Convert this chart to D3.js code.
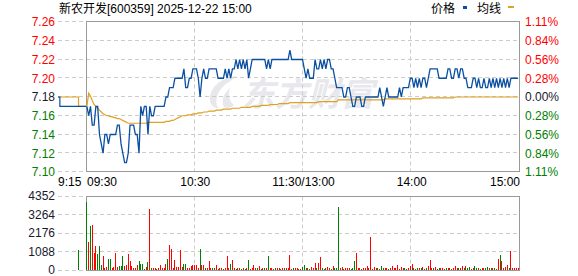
<!DOCTYPE html>
<html><head><meta charset="utf-8">
<script src="https://cdn.jsdelivr.net/npm/d3@7"></script>
<style>html,body{margin:0;padding:0;background:#fff;}svg{display:block;}</style>
</head><body>
<script>
// ---------------- data ----------------
const title = "新农开发[600359] 2025-12-22 15:00";
const legendNames = ["价格", "均线"];
const prevClose = 7.18;
const priceTicks = [7.26, 7.24, 7.22, 7.20, 7.18, 7.16, 7.14, 7.12, 7.10];
const pctTicks = ["1.11%", "0.84%", "0.56%", "0.28%", "0.00%", "0.28%", "0.56%", "0.84%", "1.11%"];
const volTicks = [4352, 3264, 2176, 1088, 0];
const timeLabels = ["9:15", "09:30", "10:30", "11:30/13:00", "14:00", "15:00"];
const timeMinutes = [null, 0, 60, 120, 180, 240];
const watermark = "东方财富";

// pre-market (minutes after 9:15)
const preMin = [0, 1, 11, 15];
const prePrice = [7.18, 7.17, 7.17, 7.17];
const preAvg = [7.18, 7.18, 7.17, 7.17];
const preVolMin = [11];
const preVol = [1150];
const preVolDir = ["G"];

// one value per minute, 09:30 .. 15:00 (241 points)
const price = [
7.17,7.16,7.17,7.15,7.15,7.17,7.17,7.14,7.13,7.12,
7.14,7.14,7.13,7.14,7.14,7.14,7.14,7.15,7.15,7.13,
7.12,7.11,7.11,7.12,7.15,7.15,7.15,7.14,7.14,7.12,
7.17,7.16,7.17,7.17,7.14,7.17,7.16,7.16,7.17,7.17,
7.17,7.17,7.17,7.17,7.18,7.18,7.19,7.19,7.19,7.20,
7.20,7.20,7.20,7.20,7.21,7.19,7.19,7.20,7.20,7.21,
7.21,7.21,7.20,7.18,7.20,7.21,7.20,7.20,7.21,7.21,
7.21,7.21,7.21,7.20,7.20,7.20,7.20,7.21,7.20,7.21,
7.20,7.21,7.21,7.22,7.21,7.22,7.21,7.22,7.21,7.22,
7.20,7.21,7.22,7.22,7.22,7.22,7.22,7.22,7.22,7.22,
7.21,7.22,7.21,7.22,7.22,7.22,7.22,7.22,7.22,7.22,
7.22,7.22,7.22,7.23,7.22,7.22,7.22,7.22,7.22,7.22,
7.22,7.21,7.20,7.21,7.20,7.20,7.20,7.22,7.21,7.21,
7.22,7.21,7.22,7.21,7.22,7.22,7.21,7.21,7.20,7.19,
7.19,7.19,7.19,7.18,7.18,7.19,7.19,7.18,7.17,7.17,
7.18,7.18,7.18,7.17,7.17,7.18,7.18,7.18,7.18,7.18,
7.18,7.18,7.18,7.19,7.18,7.17,7.18,7.19,7.18,7.18,
7.18,7.18,7.18,7.18,7.19,7.18,7.19,7.19,7.19,7.19,
7.20,7.20,7.19,7.20,7.19,7.20,7.19,7.20,7.20,7.19,
7.20,7.21,7.21,7.21,7.21,7.21,7.20,7.20,7.20,7.20,
7.20,7.21,7.21,7.20,7.20,7.21,7.21,7.20,7.21,7.21,
7.20,7.20,7.19,7.19,7.19,7.20,7.20,7.19,7.20,7.19,
7.19,7.20,7.19,7.19,7.20,7.19,7.20,7.19,7.20,7.19,
7.20,7.19,7.20,7.19,7.20,7.19,7.20,7.20,7.20,7.20,
7.20];

const avgPrice = [
7.170,7.184,7.181,7.176,7.172,7.170,7.168,7.166,7.164,7.162,
7.161,7.160,7.160,7.159,7.159,7.158,7.158,7.157,7.157,7.156,
7.155,7.154,7.153,7.152,7.152,7.152,7.152,7.152,7.152,7.152,
7.152,7.152,7.152,7.152,7.153,7.153,7.153,7.153,7.153,7.153,
7.153,7.153,7.153,7.153,7.154,7.154,7.154,7.155,7.155,7.156,
7.157,7.158,7.159,7.160,7.160,7.160,7.161,7.161,7.161,7.162,
7.162,7.162,7.163,7.163,7.163,7.164,7.164,7.164,7.165,7.165,
7.165,7.165,7.166,7.166,7.166,7.166,7.167,7.167,7.167,7.167,
7.167,7.168,7.168,7.168,7.168,7.168,7.169,7.169,7.169,7.169,
7.169,7.169,7.170,7.170,7.170,7.170,7.170,7.171,7.171,7.171,
7.171,7.171,7.172,7.172,7.172,7.172,7.172,7.173,7.173,7.173,
7.173,7.173,7.173,7.174,7.174,7.174,7.174,7.174,7.174,7.174,
7.174,7.174,7.174,7.174,7.174,7.174,7.174,7.174,7.174,7.175,
7.175,7.175,7.175,7.175,7.175,7.175,7.175,7.175,7.175,7.175,
7.177,7.177,7.177,7.177,7.177,7.177,7.177,7.177,7.177,7.177,
7.177,7.177,7.177,7.177,7.177,7.177,7.177,7.177,7.177,7.177,
7.177,7.177,7.177,7.177,7.177,7.177,7.178,7.178,7.178,7.178,
7.178,7.178,7.178,7.178,7.178,7.178,7.178,7.178,7.178,7.178,
7.178,7.178,7.178,7.178,7.178,7.178,7.178,7.179,7.179,7.179,
7.179,7.179,7.179,7.179,7.179,7.179,7.179,7.179,7.179,7.179,
7.179,7.179,7.179,7.179,7.179,7.180,7.180,7.180,7.180,7.180,
7.180,7.180,7.180,7.180,7.180,7.180,7.180,7.180,7.180,7.180,
7.180,7.180,7.180,7.180,7.180,7.180,7.180,7.180,7.180,7.180,
7.180,7.180,7.180,7.180,7.180,7.180,7.180,7.180,7.180,7.180,
7.180];

const volume = [
4020,1630,2590,2650,980,1410,940,1410,290,820,
120,200,650,650,120,150,1000,180,240,240,
820,240,290,940,530,240,100,90,290,530,
370,330,80,200,490,3590,120,110,90,80,
120,290,110,100,350,650,1470,1240,120,590,
200,180,1180,180,330,350,100,90,240,290,
290,290,130,1240,290,290,100,90,530,110,
90,100,290,80,90,110,70,120,820,90,
350,590,110,80,100,90,70,120,80,100,
590,80,110,290,90,100,240,80,110,90,
120,820,90,100,80,110,90,120,80,100,
90,110,100,880,80,100,90,110,80,70,
200,290,90,110,80,200,100,430,90,430,
780,100,80,90,200,110,80,260,90,100,
3700,110,200,80,100,90,110,80,100,530,
1000,90,100,80,110,90,260,100,1940,80,
200,90,100,80,240,110,90,100,80,110,
260,90,100,290,80,150,100,90,80,110,
260,350,90,80,110,100,90,200,80,100,
260,590,90,100,200,80,110,90,100,80,
90,110,100,80,90,260,110,90,100,240,
90,260,100,200,80,110,260,90,100,80,
110,90,100,150,140,100,90,110,80,650,
880,530,90,200,300,140,1120,100,90,110,
140];

// direction of each minute's trade: R = up (red), G = down (green)
const volDir = (
"GRGRRRGGGR"+"RRGGRRRRGG"+"GRRRRRRRRG"+"GGRRGRGRRR"+"RRRRRGRRRR"+
"RRRRGGRRRR"+"RRRGRRGRRR"+"GRRGRRGRRR"+"GRRRGRGRGR"+"GRRRRGRRRG"+
"RGRRRGRRRR"+"GRRRRGRRRR"+"GGGRGRRRGR"+"RGRGRRGRGG"+"GRRGRRRGGG"+
"RRRGRRRRRR"+"RRGRGGRRGR"+"RRRRRRRGRR"+"RRGRGRGRRG"+"RRRGRRGRRR"+
"GRRGRRRGRR"+"GRGGRRGGRG"+"RRGGRGRGRR"+"GRRRRGRRRR"+"R").split("");

// ---------------- drawing ----------------
const W = 578, H = 276;
const L = 86, R = 519, PL = 58;
const FONT = "'Liberation Sans','Noto Sans CJK SC',sans-serif";
const RED = "#ff0000", GREEN = "#008000", DARK = "#1a1a2e";
const BLUE = "#0a4fa0", ORANGE = "#e0a020";
const GRID = "#cccccc", FRAME = "#999999";

const svg = d3.select("body").append("svg").attr("width", W).attr("height", H)
  .style("font-family", FONT);
svg.append("rect").attr("width", W).attr("height", H).attr("fill", "#fff");

const xT = d3.scaleLinear().domain([0, 240]).range([L, R]);
const xB = d3.scaleLinear().domain([-0.5, 240.5]).range([L, R]);
const xPre = d3.scaleLinear().domain([0, 15]).range([PL, L]);
const y = d3.scaleLinear().domain([7.10, 7.26]).range([172, 22]);
const yv = d3.scaleLinear().domain([0, 4352]).range([270, 196]);
const cp = v => Math.round(v) - 0.5;
const cv = v => Math.floor(v) + 0.5;
const cx = v => Math.floor(v) + 0.5;

// watermark (logo swirl + text)
const wm = svg.append("g").attr("fill", "#e8e8ec");
wm.append("path").attr("d",
  "M236,76 C220,78 209,88 210,101 C211,106 214,108 218,108 C214,100 218,90 226,84 C230,81 234,79 236,76 Z" +
  "M230,88 C223,94 221,101 224,107 C227,109 231,108 234,105 C229,101 228,95 230,88 Z");
wm.append("text").attr("x", 308).attr("y", 106).attr("text-anchor", "middle")
  .attr("font-size", 33).attr("font-weight", "bold").attr("font-style", "italic")
  .attr("font-family", "'Noto Sans CJK SC',sans-serif")
  .text(watermark);

// price gridlines
const g = svg.append("g");
priceTicks.forEach(t => {
  g.append("line").attr("x1", PL).attr("x2", R).attr("y1", cp(y(t))).attr("y2", cp(y(t)))
    .attr("stroke", GRID).attr("stroke-dasharray", "4,3");
});
volTicks.forEach(t => {
  g.append("line").attr("x1", PL).attr("x2", R).attr("y1", cv(yv(t))).attr("y2", cv(yv(t)))
    .attr("stroke", GRID).attr("stroke-dasharray", "4,3");
});
[60, 120, 180].forEach(m => {
  g.append("line").attr("x1", cx(xT(m))).attr("x2", cx(xT(m))).attr("y1", cp(y(7.26))).attr("y2", cp(y(7.10)))
    .attr("stroke", GRID).attr("stroke-dasharray", "4,3");
  g.append("line").attr("x1", cx(xT(m))).attr("x2", cx(xT(m))).attr("y1", cv(yv(4352))).attr("y2", cv(yv(0)))
    .attr("stroke", GRID).attr("stroke-dasharray", "4,3");
});

// frames
svg.append("rect").attr("x", cx(L)).attr("y", cp(y(7.26)))
  .attr("width", cx(R) - cx(L)).attr("height", cp(y(7.10)) - cp(y(7.26)))
  .attr("fill", "none").attr("stroke", FRAME);
svg.append("rect").attr("x", cx(L)).attr("y", cv(yv(4352)))
  .attr("width", cx(R) - cx(L)).attr("height", cv(yv(0)) - cv(yv(4352)))
  .attr("fill", "none").attr("stroke", FRAME);

// pre-market lines
const preLine = vals => d3.line().x((d, i) => xPre(preMin[i])).y(d => y(d)).curve(d3.curveStepAfter)(vals);
svg.append("path").attr("d", preLine(preAvg)).attr("fill", "none").attr("stroke", ORANGE).attr("stroke-width", 1.2);
svg.append("path").attr("d", preLine(prePrice)).attr("fill", "none").attr("stroke", BLUE).attr("stroke-width", 1.2);

// main lines
const mline = d3.line().x((d, i) => xB(i)).y(d => y(d));
svg.append("path").attr("d", mline(avgPrice)).attr("fill", "none").attr("stroke", ORANGE).attr("stroke-width", 1.2);
svg.append("path").attr("d", mline(price)).attr("fill", "none").attr("stroke", BLUE).attr("stroke-width", 1.3)
  .attr("stroke-linejoin", "miter");

// volume bars
const vb = svg.append("g");
preVol.forEach((v, i) => {
  const top = Math.round(yv(v));
  vb.append("rect").attr("x", Math.floor(xPre(preVolMin[i]))).attr("y", top).attr("width", 1)
    .attr("height", 270 - top).attr("fill", preVolDir[i] === "R" ? RED : GREEN);
});
volume.forEach((v, i) => {
  const top = Math.round(yv(v));
  vb.append("rect").attr("x", Math.floor(xB(i))).attr("y", top).attr("width", 1)
    .attr("height", Math.max(1, 270 - top)).attr("fill", volDir[i] === "R" ? RED : GREEN);
});

// left price labels
priceTicks.forEach(t => {
  const c = Math.abs(t - prevClose) < 1e-9 ? DARK : (t > prevClose ? RED : GREEN);
  svg.append("text").attr("x", 55).attr("y", y(t)).attr("dy", "0.36em").attr("text-anchor", "end")
    .attr("font-size", 12).attr("fill", c).text(t.toFixed(2));
});
// right pct labels
pctTicks.forEach((t, i) => {
  const c = i < 4 ? RED : (i === 4 ? DARK : GREEN);
  svg.append("text").attr("x", 525).attr("y", y(priceTicks[i])).attr("dy", "0.36em")
    .attr("font-size", 12).attr("fill", c).text(t);
});
// volume labels
volTicks.forEach(t => {
  svg.append("text").attr("x", 55).attr("y", yv(t)).attr("dy", "0.36em").attr("text-anchor", "end")
    .attr("font-size", 12).attr("fill", DARK).text(t);
});
// time labels
timeLabels.forEach((t, i) => {
  let x, anchor;
  if (i === 0) { x = xPre(0); anchor = "start"; }
  else if (i === 1) { x = xT(0) + 1; anchor = "start"; }
  else if (i === timeLabels.length - 1) { x = xT(240) + 1; anchor = "end"; }
  else { x = xT(timeMinutes[i]) + 1; anchor = "middle"; }
  svg.append("text").attr("x", x).attr("y", 186).attr("text-anchor", anchor)
    .attr("font-size", 12).attr("fill", "#000").text(t);
});

// title
svg.append("text").attr("x", 59).attr("y", 13).attr("font-size", 12).attr("fill", "#000").text(title);
// legend
svg.append("text").attr("x", 431).attr("y", 13).attr("font-size", 12).attr("fill", "#000").text(legendNames[0]);
svg.append("rect").attr("x", 463).attr("y", 6).attr("width", 4).attr("height", 3).attr("fill", BLUE);
svg.append("text").attr("x", 477).attr("y", 13).attr("font-size", 12).attr("fill", "#000").text(legendNames[1]);
svg.append("rect").attr("x", 508).attr("y", 6).attr("width", 6).attr("height", 2).attr("fill", ORANGE);
</script>
</body></html>
